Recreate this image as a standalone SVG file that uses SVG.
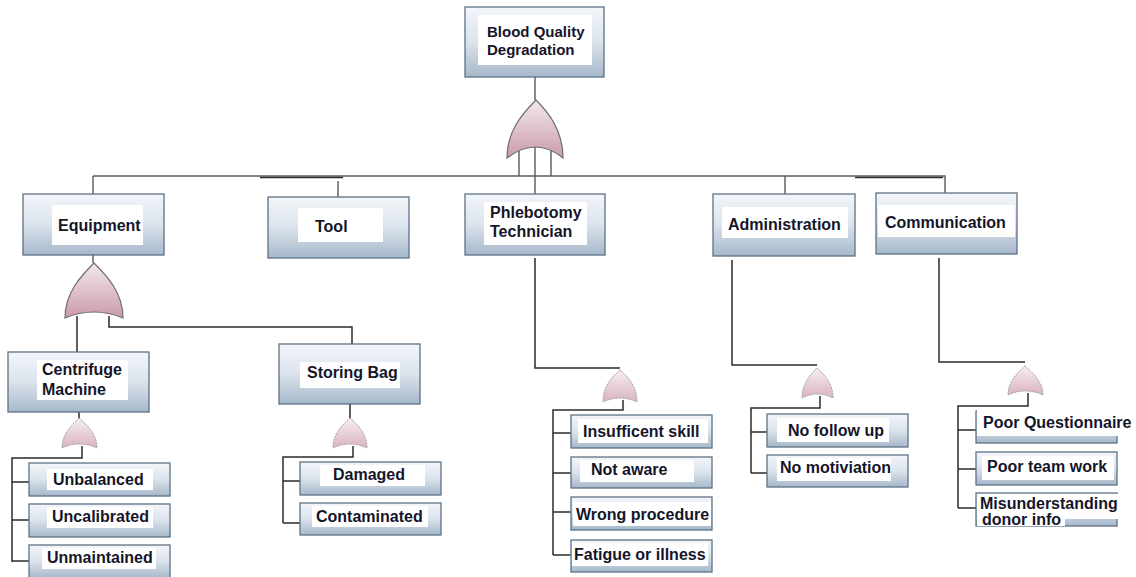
<svg xmlns="http://www.w3.org/2000/svg" width="1136" height="577" viewBox="0 0 1136 577">
<defs>
<linearGradient id="bg" x1="0" y1="0" x2="0" y2="1">
<stop offset="0" stop-color="#f3f6fa"/>
<stop offset="0.5" stop-color="#dbe3ec"/>
<stop offset="1" stop-color="#a6b8ca"/>
</linearGradient>
<linearGradient id="gate" x1="0" y1="0" x2="0" y2="1">
<stop offset="0" stop-color="#f4e8ec"/>
<stop offset="1" stop-color="#c99aab"/>
</linearGradient>
<linearGradient id="gate2" x1="0" y1="0" x2="0" y2="1">
<stop offset="0" stop-color="#f8eef1"/>
<stop offset="1" stop-color="#d9b3c0"/>
</linearGradient>
</defs>
<style>
.box{fill:url(#bg);stroke:#5d7185;stroke-width:1.3}
.lbl{fill:#ffffff}
.t{font-family:"Liberation Sans",Arial,sans-serif;font-weight:bold;font-size:16px;fill:#15152a}
.tt{font-family:"Liberation Sans",Arial,sans-serif;font-weight:bold;font-size:15px;fill:#15152a}
.ln{fill:none;stroke:#2b2b2b;stroke-width:1.5}
.lg{fill:none;stroke:#555a60;stroke-width:1.4}
.gate{fill:url(#gate);stroke:#6e6e6e;stroke-width:1.2}
.gs{fill:url(#gate2);stroke:#a0a0a0;stroke-width:1;stroke-dasharray:2 1}
</style>
<rect width="1136" height="577" fill="#ffffff"/>

<g id="connectors">
<path class="lg" d="M535,77 V100"/>
<path class="lg" d="M519,150 V176 M551,150 V176 M535,145 V194"/>
<path class="lg" d="M93,176 H945 V193"/>
<path class="ln" d="M260,177.5 H343 M855,177.5 H943" stroke-width="2.5"/>
<path class="lg" d="M93,176 V194 M338,181 V197 M785,176 V194"/>
<path class="lg" d="M93,255 V263"/>
<path class="ln" d="M77,316 V352" stroke-width="2"/>
<path class="ln" d="M109,316 V327 H352 V344"/>
<path class="ln" d="M79,412 V418 M82,446 V458 H12 V562 M12,482 H30 M12,520 H30 M12,561 H30"/>
<path class="ln" d="M350,404 V418 M353,446 V457 H283 V523 M283,481 H300 M283,523 H300"/>
<path class="ln" d="M535,258 V368 H620 M623,400 V410 H553 V555 M553,433 H572 M553,473 H572 M553,512 H572 M553,555 H572"/>
<path class="ln" d="M732,260 V365 H817 M820,396 V408 H751 V473 M751,432 H768 M751,473 H768"/>
<path class="ln" d="M939,258 V362 H1025 M1028,393 V406 H958 V508 M958,430 H976 M958,469 H976 M958,508 H976"/>
</g>

<g id="gates">
<path class="gate" d="M536,100 C548,112 563,130 563,158 Q536,136 507,158 C507,130 524,112 536,100 Z"/>
<path class="gate" d="M94,263 C106,275 123,292 123,318 Q94,306 65,318 C65,292 82,275 94,263 Z"/>
<path class="gs" d="M79,418 C87,425 97,434 97,448 Q79,440 62,448 C62,434 72,425 79,418 Z"/>
<path class="gs" d="M350,418 C358,425 367,434 367,448 Q350,440 333,448 C333,434 342,425 350,418 Z"/>
<path class="gs" d="M620,370 C628,377 637,386 637,402 Q620,394 603,402 C603,386 612,377 620,370 Z"/>
<path class="gs" d="M817,368 C825,375 833,384 833,398 Q817,390 802,398 C802,384 810,375 817,368 Z"/>
<path class="gs" d="M1025,366 C1033,373 1043,382 1043,395 Q1025,387 1008,395 C1008,382 1017,373 1025,366 Z"/>
</g>

<g id="n-top">
<rect class="box" x="465" y="7" width="139" height="70"/>
<rect class="lbl" x="478" y="15" width="114" height="50"/>
<text class="tt" x="487" y="37">Blood Quality</text>
<text class="tt" x="487" y="55">Degradation</text>
</g>

<g id="n-equipment">
<rect class="box" x="23" y="194" width="141" height="61"/>
<rect class="lbl" x="52" y="205" width="91" height="40"/>
<text class="t" x="58" y="231">Equipment</text>
</g>

<g id="n-tool">
<rect class="box" x="268" y="197" width="141" height="61"/>
<rect class="lbl" x="298" y="208" width="85" height="34"/>
<text class="t" x="315" y="232">Tool</text>
</g>

<g id="n-phlebotomy">
<rect class="box" x="465" y="194" width="140" height="61"/>
<rect class="lbl" x="484" y="202" width="103" height="43"/>
<text class="t" x="490" y="218">Phlebotomy</text>
<text class="t" x="490" y="237">Technician</text>
</g>

<g id="n-administration">
<rect class="box" x="713" y="194" width="142" height="62"/>
<rect class="lbl" x="722" y="207" width="126" height="31"/>
<text class="t" x="728" y="230">Administration</text>
</g>

<g id="n-communication">
<rect class="box" x="876" y="193" width="141" height="61"/>
<rect class="lbl" x="878" y="205" width="137" height="32"/>
<text class="t" x="885" y="228">Communication</text>
</g>

<g id="n-centrifuge">
<rect class="box" x="8" y="352" width="141" height="60"/>
<rect class="lbl" x="37" y="360" width="91" height="40"/>
<text class="t" x="42" y="375">Centrifuge</text>
<text class="t" x="42" y="395">Machine</text>
</g>

<g id="n-storing">
<rect class="box" x="279" y="344" width="141" height="60"/>
<rect class="lbl" x="300" y="362" width="100" height="26"/>
<text class="t" x="307" y="378">Storing Bag</text>
</g>

<g id="n-unbalanced">
<rect class="box" x="29" y="463" width="141" height="33"/>
<rect class="lbl" x="47" y="469" width="106" height="21"/>
<text class="t" x="53" y="485">Unbalanced</text>
</g>
<g id="n-uncalibrated">
<rect class="box" x="29" y="504" width="141" height="33"/>
<rect class="lbl" x="47" y="507" width="106" height="21"/>
<text class="t" x="52" y="522">Uncalibrated</text>
</g>
<g id="n-unmaintained">
<rect class="box" x="29" y="545" width="141" height="33"/>
<rect class="lbl" x="42" y="548" width="114" height="21"/>
<text class="t" x="47" y="563">Unmaintained</text>
</g>

<g id="n-damaged">
<rect class="box" x="300" y="462" width="141" height="33"/>
<rect class="lbl" x="320" y="465" width="105" height="21"/>
<text class="t" x="333" y="480">Damaged</text>
</g>
<g id="n-contaminated">
<rect class="box" x="300" y="503" width="141" height="32"/>
<rect class="lbl" x="312" y="506" width="116" height="21"/>
<text class="t" x="316" y="522">Contaminated</text>
</g>

<g id="n-insufficient">
<rect class="box" x="571" y="415" width="141" height="33"/>
<rect class="lbl" x="578" y="419" width="130" height="24"/>
<text class="t" x="583" y="437">Insufficent skill</text>
</g>
<g id="n-notaware">
<rect class="box" x="571" y="457" width="141" height="31"/>
<rect class="lbl" x="580" y="460" width="114" height="22"/>
<text class="t" x="591" y="475">Not aware</text>
</g>
<g id="n-wrong">
<rect class="box" x="571" y="497" width="141" height="33"/>
<rect class="lbl" x="573" y="502" width="138" height="24"/>
<text class="t" x="576" y="520">Wrong procedure</text>
</g>
<g id="n-fatigue">
<rect class="box" x="571" y="540" width="141" height="32"/>
<rect class="lbl" x="572" y="543" width="136" height="23"/>
<text class="t" x="574" y="560">Fatigue or illness</text>
</g>

<g id="n-followup">
<rect class="box" x="767" y="414" width="141" height="33"/>
<rect class="lbl" x="777" y="418" width="112" height="24"/>
<text class="t" x="788" y="436">No follow up</text>
</g>
<g id="n-motivation">
<rect class="box" x="767" y="455" width="141" height="32"/>
<rect class="lbl" x="777" y="458" width="114" height="23"/>
<text class="t" x="780" y="473">No motiviation</text>
</g>

<g id="n-questionnaire">
<rect class="box" x="976" y="411" width="141" height="32"/>
<rect class="lbl" x="977" y="410" width="158" height="26"/>
<text class="t" x="983" y="428">Poor Questionnaire</text>
</g>
<g id="n-teamwork">
<rect class="box" x="976" y="452" width="141" height="33"/>
<rect class="lbl" x="982" y="456" width="132" height="24"/>
<text class="t" x="987" y="472">Poor team work</text>
</g>
<g id="n-misunderstanding">
<rect class="box" x="976" y="493" width="141" height="33"/>
<rect class="lbl" x="977" y="494" width="145" height="25"/>
<rect class="lbl" x="977" y="518" width="88" height="8"/>
<text class="t" x="980" y="509">Misunderstanding</text>
<text class="t" x="982" y="525">donor info</text>
</g>
</svg>
